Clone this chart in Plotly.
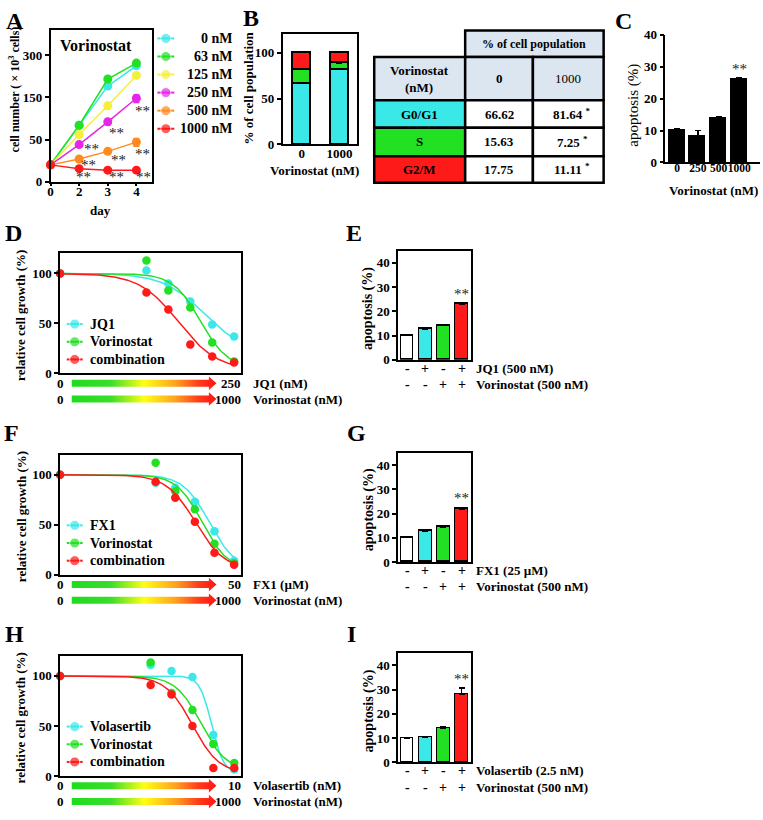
import numpy as np
import plotly.graph_objects as go

W, H = 763, 820
SERIF = "Liberation Serif, Times New Roman, serif"

# ---------------- data ----------------
# A: cell number (x10^3) over days
a_days = ["0", "2", "3", "4"]
a_names = ["0 nM", "63 nM", "125 nM", "250 nM", "500 nM", "1000 nM"]
a_0nM = [20, 84, 190, 262]
a_63nM = [20, 84, 215, 272]
a_125nM = [20, 62, 130, 228]
a_250nM = [20, 44, 92, 148]
a_500nM = [20, 27, 36, 47]
a_1000nM = [20, 15.5, 13.7, 13.7]
a_err_0nM = [0, 2, 6, 5]
a_err_63nM = [0, 2, 10, 6]
a_err_125nM = [0, 2, 8, 4]
a_err_250nM = [0, 2, 7, 10]
a_err_500nM = [0, 1, 2, 5]
a_err_1000nM = [0, 1, 1, 1]
a_y_ticks = [0, 50, 150, 300]
a_sig_series = ["250 nM", "500 nM", "1000 nM"]
a_sig_days = ["2", "3", "4"]

# B: cell cycle
b_doses = ["0", "1000"]
b_phases = ["G0/G1", "S", "G2/M"]
b_g0g1 = [66.62, 81.64]
b_s = [15.63, 7.25]
b_g2m = [17.75, 11.11]
b_err = [0.8, 0.8]
b_sig = ["", "*"]

# C: apoptosis vs vorinostat
c_doses = ["0", "250", "500", "1000"]
c_apop = [10.1, 8.5, 13.9, 26.1]
c_err = [0.3, 1.5, 0.3, 0.4]
c_sig = ["", "", "", "**"]

# D: JQ1 + vorinostat dose response
d_jq1_nM = [0, 15.625, 31.25, 62.5, 125, 250]
d_jq1 = [100, 103, 90, 72, 49, 37]
d_vor = [100, 113, 83, 66, 31, 12]
d_comb = [100, 81, 64, 29, 17, 11]
d_fit_jq1 = (20, 1.53, 96)     # bottom, Hill slope, IC50 (JQ1 scale)
d_fit_vor = (5, 2.31, 86)
d_fit_comb = (3, 1.61, 43)

# E
e_jq1 = ["-", "+", "-", "+"]
e_vor = ["-", "-", "+", "+"]
e_apop = [10.1, 12.7, 14.2, 23.0]
e_err = [0.2, 0.3, 0.4, 0.6]
e_sig = ["", "", "", "**"]

# F: FX1 + vorinostat
f_fx1_uM = [0, 3.125, 6.25, 12.5, 25, 50]
f_fx1 = [100, 92, 87, 73, 43.5, 14]
f_vor = [100, 112, 83.5, 65.5, 31, 11.5]
f_comb = [100, 93, 77, 53, 22, 10]
f_fit_fx1 = (5, 2.16, 20.7)
f_fit_vor = (5, 2.22, 16.1)
f_fit_comb = (5, 1.95, 12.7)

# G
g_fx1 = ["-", "+", "-", "+"]
g_vor = ["-", "-", "+", "+"]
g_apop = [10.0, 12.6, 14.4, 21.9]
g_err = [0.2, 0.4, 0.4, 0.6]
g_sig = ["", "", "", "**"]

# H: volasertib + vorinostat
h_vol_nM = [0, 0.625, 1.25, 2.5, 5, 10]
h_vol = [100, 111, 105, 99, 41, 6.5]
h_vor = [100, 113.5, 83, 66, 32, 13]
h_comb = [100, 91, 81.5, 50, 8, 8]
h_fit_vol = (3, 5.12, 4.7)
h_fit_vor = (5, 2.38, 3.32)
h_fit_comb = (2, 2.25, 2.5)

# I
i_vol = ["-", "+", "-", "+"]
i_vor = ["-", "-", "+", "+"]
i_apop = [10.1, 10.3, 14.2, 27.9]
i_err = [0.2, 0.4, 0.4, 2.7]
i_sig = ["", "", "", "**"]

# ---------------- styles ----------------
CYAN = "#3ae8e8"
GREEN = "#22e022"
RED = "#ff1a1a"
YELLOW = "#f5ef3a"
MAGENTA = "#e626e6"
ORANGE = "#ff8a1e"
HEADER = "#dce6f1"
A_COLORS = [CYAN, GREEN, YELLOW, MAGENTA, ORANGE, RED]
BAR_COLORS = ["white", CYAN, GREEN, RED]
CURVE_COLORS = [CYAN, GREEN, RED]


def fnt(size=13, bold=True, color="black"):
    return dict(family=SERIF, size=size, color=color, weight="bold" if bold else "normal")


def dx(l, r):
    return [l / W, r / W]


def dy(t, b):
    return [1 - b / H, 1 - t / H]


fig = go.Figure()
ann = []
shapes = []


def txt(x, y, text, size=13, bold=True, xanchor="center", yanchor="middle", angle=0, xref="x10", yref="y10", **kw):
    ann.append(dict(x=x, y=y, text=text, xref=xref, yref=yref, showarrow=False, font=fnt(size, bold),
                    xanchor=xanchor, yanchor=yanchor, textangle=angle, **kw))


def axis_common(**kw):
    d = dict(showline=True, linecolor="black", linewidth=1.5, ticks="outside", ticklen=4, tickwidth=1.5,
             tickcolor="black", showgrid=False, zeroline=False, tickfont=fnt(13), fixedrange=True, tickangle=0)
    d.update(kw)
    return d


layout_axes = {}

# ---------------- Panel A ----------------
def seg(v):
    return np.interp(v, a_y_ticks, np.arange(len(a_y_ticks)))


a_series = [a_0nM, a_63nM, a_125nM, a_250nM, a_500nM, a_1000nM]
a_errs = [a_err_0nM, a_err_63nM, a_err_125nM, a_err_250nM, a_err_500nM, a_err_1000nM]
a_x = list(range(len(a_days)))
for name, vals, errs, col in zip(a_names, a_series, a_errs, A_COLORS):
    v = np.array(vals, float)
    e = np.array(errs, float)
    fig.add_trace(go.Scatter(
        x=a_x, y=seg(v), mode="lines+markers", name=name, xaxis="x", yaxis="y", cliponaxis=False,
        line=dict(color=col, width=1.5), marker=dict(color=col, size=9),
        error_y=dict(type="data", symmetric=False, array=seg(v + e) - seg(v), arrayminus=seg(v) - seg(v - e),
                     color=col, thickness=1.5, width=3)))

star_offsets = {("250 nM", "2"): (12, 1), ("250 nM", "3"): (9, 8), ("250 nM", "4"): (6, 10),
                ("500 nM", "2"): (9, 3), ("500 nM", "3"): (11, 6), ("500 nM", "4"): (6, 9),
                ("1000 nM", "2"): (4, 5), ("1000 nM", "3"): (9, 4), ("1000 nM", "4"): (7, 4)}
for sname in a_sig_series:
    si = a_names.index(sname)
    for dname in a_sig_days:
        di = a_days.index(dname)
        ox, oy = star_offsets[(sname, dname)]
        ann.append(dict(x=di, y=float(seg(a_series[si][di])), xref="x", yref="y", text="**", showarrow=False,
                        font=fnt(15, False, "#222"), xshift=ox, yshift=-oy - 3))

layout_axes["xaxis"] = axis_common(domain=dx(47.7, 150), range=[0, 3.56], tickvals=a_x, ticktext=a_days,
                                   mirror=True, anchor="y", ticklen=3, ticklabelstandoff=-6)
layout_axes["yaxis"] = axis_common(domain=dy(23.3, 178), range=[0, 3.6], tickvals=list(range(len(a_y_ticks))),
                                   ticktext=[str(t) for t in a_y_ticks], mirror=True, anchor="x")
txt(55, 39, "Vorinostat", size=16, xanchor="left")
# manual legend for A
for i, (name, col) in enumerate(zip(a_names, A_COLORS)):
    yy = 32 + 18.4 * i
    fig.add_trace(go.Scatter(x=[155, 163.5, 172], y=[yy] * 3, mode="lines+markers", xaxis="x10", yaxis="y10",
                             line=dict(color=col, width=2), marker=dict(color=col, size=[0, 10, 0]),
                             hoverinfo="skip"))
    txt(233, yy, name, size=14, xanchor="right")
txt(11, 84, "cell number ( × 10<sup>3</sup> cells)", size=12, angle=-90)
txt(98, 207, "day", size=13)

# ---------------- Panel B ----------------
for vals, col in zip([b_g0g1, b_s, b_g2m], [CYAN, GREEN, RED]):
    fig.add_trace(go.Bar(x=[0, 1], y=vals, xaxis="x2", yaxis="y2", width=0.49,
                         marker=dict(color=col, line=dict(color="black", width=1.5)),
                         error_y=dict(type="data", symmetric=False, array=b_err, arrayminus=[0, 0],
                                      color="black", thickness=1.2, width=3)))
layout_axes["xaxis2"] = axis_common(domain=dx(280.7, 355.5), range=[-0.51, 1.47], tickvals=[0, 1],
                                    ticktext=b_doses, ticks="", mirror=True, anchor="y2", ticklabelstandoff=-4)
layout_axes["yaxis2"] = axis_common(domain=dy(27, 140), range=[0, 121], tickvals=[0, 50, 100], mirror=True,
                                    anchor="x2")
txt(246, 83, "% of cell population", size=13, angle=-90)
txt(313, 167, "Vorinostat (nM)", size=13)

# table
cx = [372.7, 464, 532, 603]
ry = [24, 51, 95, 123, 152, 179]
LW = 2.5


def rect(x0, y0, x1, y1, fill):
    shapes.append(dict(type="rect", xref="x10", yref="y10", x0=x0, y0=y0, x1=x1, y1=y1, fillcolor=fill,
                       line=dict(color="black", width=LW), layer="above"))


rect(cx[1], ry[0], cx[3], ry[1], HEADER)
txt((cx[1] + cx[3]) / 2, (ry[0] + ry[1]) / 2, "% of cell population", size=12)
rect(cx[0], ry[1], cx[1], ry[2], HEADER)
rect(cx[1], ry[1], cx[2], ry[2], HEADER)
rect(cx[2], ry[1], cx[3], ry[2], HEADER)
txt((cx[0] + cx[1]) / 2, (ry[1] + ry[2]) / 2, "Vorinostat<br>(nM)", size=13)
txt((cx[1] + cx[2]) / 2, (ry[1] + ry[2]) / 2, b_doses[0], size=13)
txt((cx[2] + cx[3]) / 2, (ry[1] + ry[2]) / 2, b_doses[1], size=13, bold=False)
for r, (phase, vals, col) in enumerate(zip(b_phases, [b_g0g1, b_s, b_g2m], [CYAN, GREEN, RED])):
    y0, y1 = ry[2 + r], ry[3 + r]
    rect(cx[0], y0, cx[1], y1, col)
    rect(cx[1], y0, cx[2], y1, "white")
    rect(cx[2], y0, cx[3], y1, "white")
    txt((cx[0] + cx[1]) / 2, (y0 + y1) / 2, phase, size=13)
    for c in range(2):
        s = f"{vals[c]:.2f}" + (f" <sup>{b_sig[c]}</sup>" if b_sig[c] else "")
        txt((cx[1 + c] + cx[2 + c]) / 2 + (4 if b_sig[c] else 0), (y0 + y1) / 2, s, size=13)

# ---------------- Panel C ----------------
fig.add_trace(go.Bar(x=list(range(4)), y=c_apop, xaxis="x3", yaxis="y3", width=0.78,
                     marker=dict(color="black", line=dict(color="black", width=1)),
                     error_y=dict(type="data", symmetric=False, array=c_err, arrayminus=[0] * 4,
                                  color="black", thickness=1.5, width=3)))
layout_axes["xaxis3"] = axis_common(domain=dx(665, 760), range=[-0.56, 4.0], tickvals=list(range(4)),
                                    ticktext=c_doses, ticks="", anchor="y3", tickfont=fnt(11.5),
                                    ticklabelstandoff=-6)
layout_axes["yaxis3"] = axis_common(domain=dy(28.3, 158.3), range=[0, 40], tickvals=[0, 10, 20, 30, 40],
                                    anchor="x3")
for i, s in enumerate(c_sig):
    if s:
        ann.append(dict(x=i, y=c_apop[i] + c_err[i], xref="x3", yref="y3", text=s, showarrow=False,
                        font=fnt(15, False, "#222"), yanchor="bottom", yshift=-1))
txt(633, 100, "apoptosis (%)", size=15, bold=False, angle=-90)
txt(713, 187, "Vorinostat (nM)", size=13)

# ---------------- dose response panels ----------------
def arrow(yc):
    x0, xb, xt = 69, 206.7, 214.3
    bh, hh = 3.6, 6.8
    xs = [x0, xb, xb, xt, xb, xb, x0, x0]
    ys = [yc - bh, yc - bh, yc - hh, yc, yc + hh, yc + bh, yc + bh, yc - bh]
    fig.add_trace(go.Scatter(x=xs, y=ys, mode="lines", fill="toself", xaxis="x10", yaxis="y10",
                             line=dict(width=0, color="rgba(0,0,0,0)"), hoverinfo="skip",
                             fillgradient=dict(type="horizontal",
                                               colorscale=[[0, "#1edc1e"], [0.27, "#3ade2a"], [0.5, "#ffff14"],
                                                           [0.72, "#ffa01e"], [0.88, "#ff3a1a"], [1, "#ff1414"]])))


def dose_panel(k, dose, series, fits, names, offset, xmax, top, row_labels):
    xa, ya = f"x{k}", f"y{k}"
    dmin = min(d for d in dose if d > 0)
    pos = [0.0 if d == 0 else offset + np.log2(d / dmin) for d in dose]
    sgrid = np.linspace(0, pos[-1], 300)
    dgrid = dmin * 2 ** (sgrid - offset)
    for vals, fit, col in zip(series, fits, CURVE_COLORS):
        b, hs, ic = fit
        curve = b + (100 - b) / (1 + (dgrid / ic) ** hs)
        fig.add_trace(go.Scatter(x=sgrid, y=curve, mode="lines", xaxis=xa, yaxis=ya,
                                 line=dict(color=col, width=1.5), hoverinfo="skip"))
        fig.add_trace(go.Scatter(x=pos, y=vals, mode="markers", xaxis=xa, yaxis=ya, cliponaxis=False,
                                 marker=dict(color=col, size=8.5)))
    bottom = top + 122.3
    layout_axes[f"xaxis{k}"] = axis_common(domain=dx(57.3, 239.3), range=[0, xmax], ticks="",
                                           showticklabels=False, mirror=True, anchor=ya)
    layout_axes[f"yaxis{k}"] = axis_common(domain=dy(top, bottom), range=[0, 120], tickvals=[0, 50, 100],
                                           mirror=True, anchor=xa)
    # legend
    for i, (nm, col) in enumerate(zip(names, CURVE_COLORS)):
        yy = top + 72 + 18 * i
        fig.add_trace(go.Scatter(x=[64, 72, 80], y=[yy] * 3, mode="lines+markers", xaxis="x10", yaxis="y10",
                                 line=dict(color=col, width=2), marker=dict(color=col, size=[0, 10, 0]),
                                 hoverinfo="skip"))
        txt(85, yy, nm, size=14, xanchor="left")
    txt(18, top + 62.7, "relative cell growth (%)", size=13, angle=-90)
    # gradient arrows
    for j, (maxlab, drug) in enumerate(row_labels):
        yc = bottom + 10 + 16 * j
        arrow(yc)
        txt(58, yc, "0", size=13)
        txt(241, yc, maxlab, size=13, xanchor="right")
        txt(249, yc, drug, size=13, xanchor="left")


def apop_panel(k, vals, errs, sigs, flags1, flags2, lab1, lab2, top, ylabel_y):
    xa, ya = f"x{k}", f"y{k}"
    n = len(vals)
    fig.add_trace(go.Bar(x=list(range(n)), y=vals, xaxis=xa, yaxis=ya, width=0.7,
                         marker=dict(color=BAR_COLORS, line=dict(color="black", width=1.5)),
                         error_y=dict(type="data", symmetric=False, array=errs, arrayminus=[0] * n,
                                      color="black", thickness=1.5, width=3)))
    bottom = top + 111
    layout_axes[f"xaxis{k}"] = axis_common(domain=dx(396.7, 470), range=[-0.5, 3.53], ticks="",
                                           showticklabels=False, mirror=True, anchor=ya)
    layout_axes[f"yaxis{k}"] = axis_common(domain=dy(top, bottom), range=[0, 45], tickvals=[0, 10, 20, 30, 40],
                                           mirror=True, anchor=xa)
    for i, s in enumerate(sigs):
        if s:
            ann.append(dict(x=i, y=vals[i] + errs[i], xref=xa, yref=ya, text=s, showarrow=False,
                            font=fnt(15, False, "#222"), yanchor="bottom", yshift=-1))
    for j, (flags, lab) in enumerate([(flags1, lab1), (flags2, lab2)]):
        yy = bottom + 8.5 + 17 * j
        for i, f in enumerate(flags):
            ann.append(dict(x=i, y=yy, xref=xa, yref="y10", text=f, showarrow=False, font=fnt(14)))
        txt(472.7, yy, lab, size=13, xanchor="left")
    txt(367, ylabel_y, "apoptosis (%)", size=14, angle=-90)


dose_panel(4, d_jq1_nM, [d_jq1, d_vor, d_comb], [d_fit_jq1, d_fit_vor, d_fit_comb],
           ["JQ1", "Vorinostat", "combination"], 3.94, 8.27, 251,
           [("250", "JQ1 (nM)"), ("1000", "Vorinostat (nM)")])
dose_panel(6, f_fx1_uM, [f_fx1, f_vor, f_comb], [f_fit_fx1, f_fit_vor, f_fit_comb],
           ["FX1", "Vorinostat", "combination"], 4.87, 9.24, 456,
           [("50", "FX1 (µM)"), ("1000", "Vorinostat (nM)")])
dose_panel(8, h_vol_nM, [h_vol, h_vor, h_comb], [h_fit_vol, h_fit_vor, h_fit_comb],
           ["Volasertib", "Vorinostat", "combination"], 4.33, 8.67, 661,
           [("10", "Volasertib (nM)"), ("1000", "Vorinostat (nM)")])

apop_panel(5, e_apop, e_err, e_sig, e_jq1, e_vor, "JQ1 (500 nM)", "Vorinostat (500 nM)", 248.3, 307)
apop_panel(7, g_apop, g_err, g_sig, g_fx1, g_vor, "FX1 (25 µM)", "Vorinostat (500 nM)", 454.3, 512)
apop_panel(9, i_apop, i_err, i_sig, i_vol, i_vor, "Volasertib (2.5 nM)", "Vorinostat (500 nM)", 658.3, 717)

# panel letters
for letter, x, y in [("A", 12.5, 14.5), ("B", 249, 11), ("C", 623, 14), ("D", 11, 230), ("E", 352, 230),
                     ("F", 9, 434), ("G", 355, 434), ("H", 12, 639), ("I", 350, 639)]:
    txt(x, y, letter, size=24)

layout_axes["xaxis10"] = dict(domain=[0, 1], range=[0, W], visible=False, fixedrange=True, anchor="y10")
layout_axes["yaxis10"] = dict(domain=[0, 1], range=[H, 0], visible=False, fixedrange=True, anchor="x10")

fig.update_layout(
    width=W, height=H, margin=dict(l=0, r=0, t=0, b=0), paper_bgcolor="white",
    plot_bgcolor="rgba(0,0,0,0)", showlegend=False, barmode="stack", bargap=0,
    annotations=ann, shapes=shapes, font=fnt(13), **layout_axes)

fig.write_html("out.html", config={"displayModeBar": False},
               post_script="document.body.style.margin='0px';document.body.style.overflow='hidden';")
